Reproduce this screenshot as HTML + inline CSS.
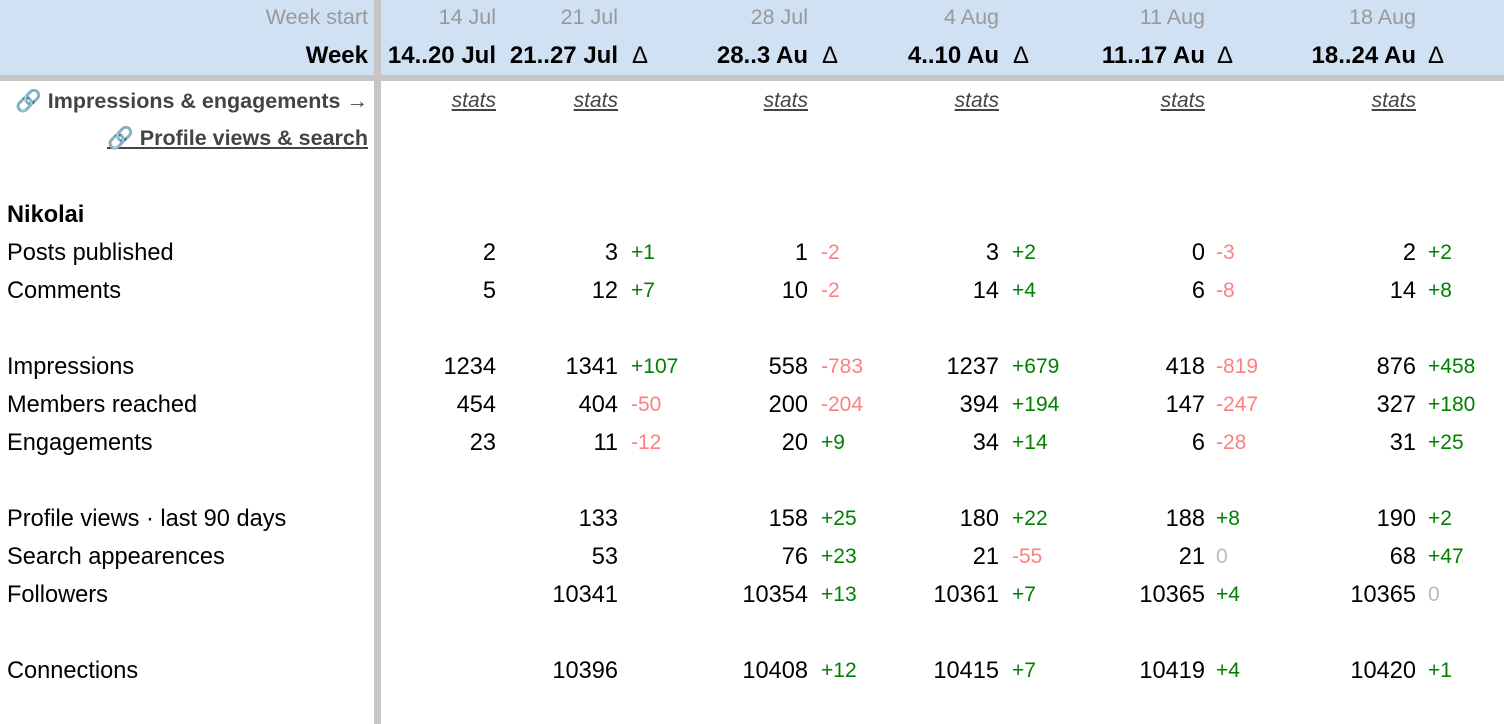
<!DOCTYPE html>
<html><head><meta charset="utf-8"><style>
*{margin:0;padding:0;box-sizing:border-box}
body{width:1504px;height:724px;background:#fff;position:relative;overflow:hidden;font-family:"Liberation Sans",Arial,sans-serif;color:#000}
.hd{position:absolute;left:0;top:0;width:1504px;height:75px;background:#cfe1f3}
.hl{position:absolute;left:0;top:75px;width:1504px;height:6px;background:#c6c6c6}
.vl{position:absolute;left:374px;top:0;width:7px;height:724px;background:#c6c6c6}
.r{position:absolute;left:0;width:1504px;height:28px;line-height:28px;font-size:23.6px}
.r span{position:absolute;white-space:nowrap}
.l{left:7px}
.g{color:#008000;font-size:21px}
.n{color:#ff7f7f;font-size:21px}
.z{color:#bbb;font-size:21px}
.ws{color:#999;font-size:21.5px}
.wk{font-weight:bold;font-size:24px}
.st{font-style:italic;text-decoration:underline;color:#444;font-size:21px}
.lk{font-weight:bold;color:#444;font-size:21.5px}
</style></head><body>
<div class="hd"></div><div class="hl"></div><div class="vl"></div>

<div class="r ws" style="top:3px"><span style="right:1136px">Week start</span><span style="right:1008px">14 Jul</span><span style="right:886px">21 Jul</span><span style="right:696px">28 Jul</span><span style="right:505px">4 Aug</span><span style="right:299px">11 Aug</span><span style="right:88px">18 Aug</span></div>
<div class="r wk" style="top:42px"><span style="right:1136px">Week</span><span style="right:1008px">14..20 Jul</span><span style="right:886px">21..27 Jul</span><span style="left:632px;font-weight:normal">Δ</span><span style="right:696px">28..3 Au</span><span style="left:822px;font-weight:normal">Δ</span><span style="right:505px">4..10 Au</span><span style="left:1013px;font-weight:normal">Δ</span><span style="right:299px">11..17 Au</span><span style="left:1217px;font-weight:normal">Δ</span><span style="right:88px">18..24 Au</span><span style="left:1428px;font-weight:normal">Δ</span></div>

<div class="r" style="top:87px"><span class="lk" style="right:1136px">🔗 Impressions &amp; engagements →</span><span class="st" style="right:1008px">stats</span><span class="st" style="right:886px">stats</span><span class="st" style="right:696px">stats</span><span class="st" style="right:505px">stats</span><span class="st" style="right:299px">stats</span><span class="st" style="right:88px">stats</span></div>
<div class="r" style="top:124px"><span class="lk" style="right:1136px;text-decoration:underline">🔗 Profile views &amp; search</span></div>

<div class="r" style="top:201px"><span class="l" style="font-weight:bold">Nikolai</span></div>

<div class="r" style="top:239px"><span class="l">Posts published</span><span style="right:1008px">2</span><span style="right:886px">3</span><span class="g" style="left:631px">+1</span><span style="right:696px">1</span><span class="n" style="left:821px">-2</span><span style="right:505px">3</span><span class="g" style="left:1012px">+2</span><span style="right:299px">0</span><span class="n" style="left:1216px">-3</span><span style="right:88px">2</span><span class="g" style="left:1428px">+2</span></div>
<div class="r" style="top:277px"><span class="l">Comments</span><span style="right:1008px">5</span><span style="right:886px">12</span><span class="g" style="left:631px">+7</span><span style="right:696px">10</span><span class="n" style="left:821px">-2</span><span style="right:505px">14</span><span class="g" style="left:1012px">+4</span><span style="right:299px">6</span><span class="n" style="left:1216px">-8</span><span style="right:88px">14</span><span class="g" style="left:1428px">+8</span></div>

<div class="r" style="top:353px"><span class="l">Impressions</span><span style="right:1008px">1234</span><span style="right:886px">1341</span><span class="g" style="left:631px">+107</span><span style="right:696px">558</span><span class="n" style="left:821px">-783</span><span style="right:505px">1237</span><span class="g" style="left:1012px">+679</span><span style="right:299px">418</span><span class="n" style="left:1216px">-819</span><span style="right:88px">876</span><span class="g" style="left:1428px">+458</span></div>
<div class="r" style="top:391px"><span class="l">Members reached</span><span style="right:1008px">454</span><span style="right:886px">404</span><span class="n" style="left:631px">-50</span><span style="right:696px">200</span><span class="n" style="left:821px">-204</span><span style="right:505px">394</span><span class="g" style="left:1012px">+194</span><span style="right:299px">147</span><span class="n" style="left:1216px">-247</span><span style="right:88px">327</span><span class="g" style="left:1428px">+180</span></div>
<div class="r" style="top:429px"><span class="l">Engagements</span><span style="right:1008px">23</span><span style="right:886px">11</span><span class="n" style="left:631px">-12</span><span style="right:696px">20</span><span class="g" style="left:821px">+9</span><span style="right:505px">34</span><span class="g" style="left:1012px">+14</span><span style="right:299px">6</span><span class="n" style="left:1216px">-28</span><span style="right:88px">31</span><span class="g" style="left:1428px">+25</span></div>

<div class="r" style="top:505px"><span class="l">Profile views · last 90 days</span><span style="right:886px">133</span><span style="right:696px">158</span><span class="g" style="left:821px">+25</span><span style="right:505px">180</span><span class="g" style="left:1012px">+22</span><span style="right:299px">188</span><span class="g" style="left:1216px">+8</span><span style="right:88px">190</span><span class="g" style="left:1428px">+2</span></div>
<div class="r" style="top:543px"><span class="l">Search appearences</span><span style="right:886px">53</span><span style="right:696px">76</span><span class="g" style="left:821px">+23</span><span style="right:505px">21</span><span class="n" style="left:1012px">-55</span><span style="right:299px">21</span><span class="z" style="left:1216px">0</span><span style="right:88px">68</span><span class="g" style="left:1428px">+47</span></div>
<div class="r" style="top:581px"><span class="l">Followers</span><span style="right:886px">10341</span><span style="right:696px">10354</span><span class="g" style="left:821px">+13</span><span style="right:505px">10361</span><span class="g" style="left:1012px">+7</span><span style="right:299px">10365</span><span class="g" style="left:1216px">+4</span><span style="right:88px">10365</span><span class="z" style="left:1428px">0</span></div>

<div class="r" style="top:657px"><span class="l">Connections</span><span style="right:886px">10396</span><span style="right:696px">10408</span><span class="g" style="left:821px">+12</span><span style="right:505px">10415</span><span class="g" style="left:1012px">+7</span><span style="right:299px">10419</span><span class="g" style="left:1216px">+4</span><span style="right:88px">10420</span><span class="g" style="left:1428px">+1</span></div>
</body></html>
